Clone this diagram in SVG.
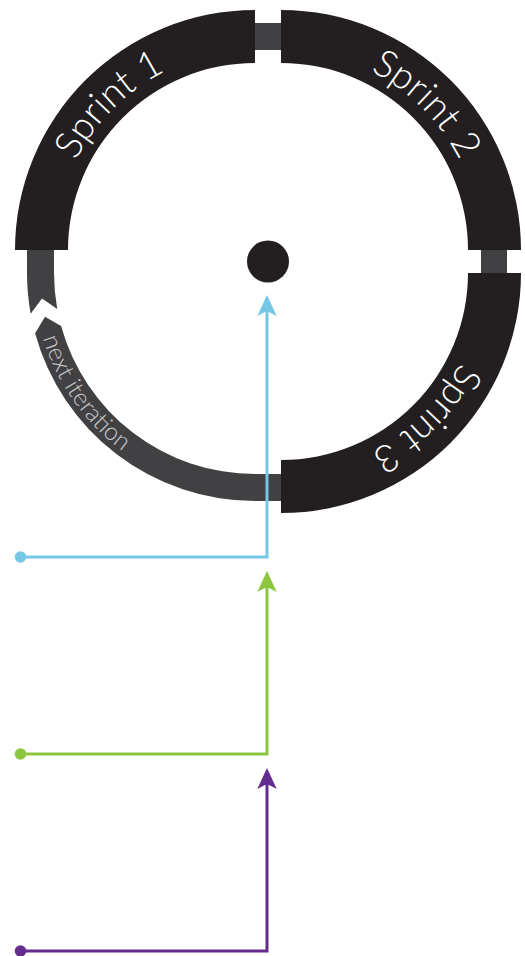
<svg xmlns="http://www.w3.org/2000/svg" xmlns:xlink="http://www.w3.org/1999/xlink" width="525" height="956" viewBox="0 0 525 956">
<style>
.sprint{fill:#231f20}
.link{fill:#414042}
.label{font-family:Lato,"Open Sans","Liberation Sans",sans-serif;font-weight:300;fill:#ffffff;font-size:38px}
.note{font-family:Lato,"Open Sans","Liberation Sans",sans-serif;font-weight:300;fill:#c9c9ca;font-size:24.5px}
.wire{fill:none;stroke-width:3;stroke-linejoin:miter}
</style>
<defs>
<path id="p1" d="M55,250 A200,200 0 0 1 255,50"/>
<path id="p2" d="M281,50 A200,200 0 0 1 481,250"/>
<path id="p3" d="M481,273 A200,200 0 0 1 281,473"/>
<path id="pn" d="M33,273 A222,222 0 0 0 255,495"/>
<marker id="mb" viewBox="-6 -11 23 22" markerWidth="23" markerHeight="22" refX="0" refY="0" orient="auto" markerUnits="userSpaceOnUse"><path d="M16,0 L-5,-9.75 L0,0 L-5,9.75 Z" fill="#76c7e6"/></marker>
<marker id="mg" viewBox="-6 -11 23 22" markerWidth="23" markerHeight="22" refX="0" refY="0" orient="auto" markerUnits="userSpaceOnUse"><path d="M16,0 L-5,-9.75 L0,0 L-5,9.75 Z" fill="#8cc63f"/></marker>
<marker id="mp" viewBox="-6 -11 23 22" markerWidth="23" markerHeight="22" refX="0" refY="0" orient="auto" markerUnits="userSpaceOnUse"><path d="M16,0 L-5,-9.75 L0,0 L-5,9.75 Z" fill="#662d91"/></marker>
</defs>
<g id="cycle-links">
<rect class="link" x="255" y="23" width="26" height="27"/>
<rect class="link" x="481" y="250" width="26" height="23"/>
</g>
<g id="next-iteration">
<path class="link" d="M27,250 L27,273 A228,228 0 0 0 30.67,313.77 L42.01,298.4 L57.24,308.94 A201,201 0 0 1 54,273 L54,250 Z"/>
<path class="link" d="M45.03,316.87 L35.08,333.16 A228,228 0 0 0 255,501 L281,501 L281,474 L255,474 A201,201 0 0 1 61.12,326.04 Z"/>
<text class="note"><textPath xlink:href="#pn" href="#pn" startOffset="66">next iteration</textPath></text>
</g>
<g id="connectors">
<path class="wire" stroke="#76c7e6" d="M20.5,557 H267 V311" marker-end="url(#mb)"/>
<path class="wire" stroke="#8cc63f" d="M20.5,754 H267 V587" marker-end="url(#mg)"/>
<path class="wire" stroke="#662d91" d="M20.5,951 H267 V784" marker-end="url(#mp)"/>
<circle cx="20.5" cy="557" r="5.8" fill="#76c7e6"/>
<circle cx="20.5" cy="754" r="5.8" fill="#8cc63f"/>
<circle cx="20.5" cy="951" r="5.8" fill="#662d91"/>
</g>
<g id="sprint-1">
<path class="sprint" d="M15,250 A240,240 0 0 1 255,10 L255,63 A187,187 0 0 0 68,250 Z"/>
<text class="label" text-anchor="middle"><textPath xlink:href="#p1" href="#p1" startOffset="50%">Sprint 1</textPath></text>
</g>
<g id="sprint-2">
<path class="sprint" d="M281,10 A240,240 0 0 1 521,250 L468,250 A187,187 0 0 0 281,63 Z"/>
<text class="label" text-anchor="middle"><textPath xlink:href="#p2" href="#p2" startOffset="50%">Sprint 2</textPath></text>
</g>
<g id="sprint-3">
<path class="sprint" d="M521,273 A240,240 0 0 1 281,513 L281,460 A187,187 0 0 0 468,273 Z"/>
<text class="label" text-anchor="middle"><textPath xlink:href="#p3" href="#p3" startOffset="50%">Sprint 3</textPath></text>
</g>
<g id="center">
<circle cx="268" cy="261.5" r="21" fill="#231f20"/>
</g>
</svg>
